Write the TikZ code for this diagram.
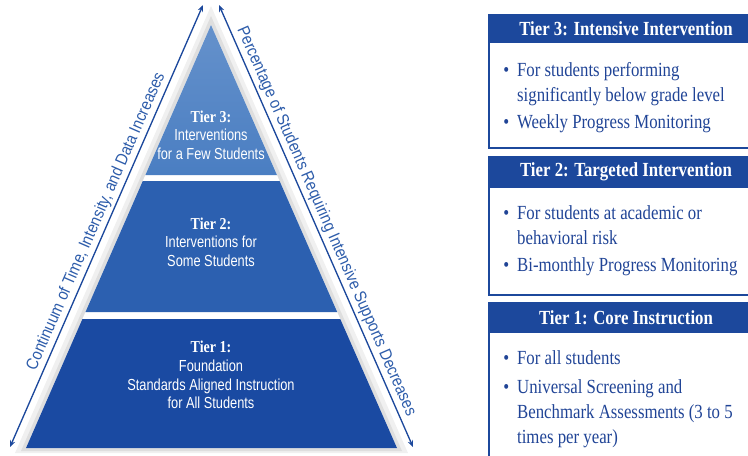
\documentclass[tikz,border=0pt]{standalone}
\usepackage{fontspec}
\usetikzlibrary{calc,arrows.meta}

\newfontfamily\boxfont{Liberation Serif}[FakeStretch=0.84]
\newfontfamily\pyrfont{Liberation Sans}[FakeStretch=0.80]
\newfontfamily\sidefont{Liberation Sans}[FakeStretch=0.88]

\definecolor{tierthree}{RGB}{74,126,194}
\definecolor{tiertwo}{RGB}{44,96,176}
\definecolor{tierone}{RGB}{26,74,162}
\definecolor{navy}{RGB}{28,72,156}
\definecolor{sideblue}{RGB}{45,92,170}
\definecolor{bodyblue}{RGB}{32,68,150}

\tikzset{
  tierlabel/.style={align=center, text=white, font=\pyrfont\fontsize{12}{14}\selectfont},
  boxhead/.style={text=white, font=\boxfont\bfseries\fontsize{15}{18}\selectfont},
  boxbody/.style={anchor=north west, inner sep=0pt, text=bodyblue, font=\boxfont\fontsize{15}{18.75}\selectfont},
  sidetext/.style={sloped, above, inner sep=2pt, text=sideblue, font=\sidefont\fontsize{12.6}{15}\selectfont},
  pyrarrow/.style={navy, line width=1pt, {Stealth[length=5pt,width=4pt]}-{Stealth[length=5pt,width=4pt]}}
}
\def\tiername#1{{\boxfont\bfseries\fontsize{12.5}{14}\selectfont Tier #1:}}

\begin{document}
\begin{tikzpicture}[x=0.75pt,y=-0.75pt]
    \useasboundingbox (0,0) rectangle (748,455);
    \clip (0,0) rectangle (748,455);

    % pyramid
    \coordinate (apex) at (211,25);
    \coordinate (bl) at (26,448);
    \coordinate (br) at (397,448);
    \fill[black!6] (211,6) -- (15,453) -- (408,453) -- cycle;
    \fill[black!13] (211,16) -- (21,451) -- (402,451) -- cycle;
    \fill[white] (apex) -- (bl) -- (br) -- cycle;
    \shade[top color=tierthree!85!white, bottom color=tierthree] (apex) -- ($(apex)!0.3546!(bl)$) -- ($(apex)!0.3546!(br)$) -- cycle;
    \fill[tiertwo] ($(apex)!0.3688!(bl)$) -- ($(apex)!0.6785!(bl)$) -- ($(apex)!0.6785!(br)$) -- ($(apex)!0.3688!(br)$) -- cycle;
    \fill[tierone] ($(apex)!0.695!(bl)$) -- (bl) -- (br) -- ($(apex)!0.695!(br)$) -- cycle;

    \node[tierlabel] (t3) at (211,135) {\tiername{3}\\Interventions\\for a Few Students};
    \node[tierlabel] (t2) at (211,242) {\tiername{2}\\Interventions for\\Some Students};
    \node[tierlabel] (t1) at (211,375) {\tiername{1}\\Foundation\\Standards Aligned Instruction\\for All Students};

    % side arrows
    \coordinate (la1) at (10,447);
    \coordinate (la2) at (203,5);
    \coordinate (ra1) at (219,5);
    \coordinate (ra2) at (413,447);
    \draw[pyrarrow] (la1) -- node[sidetext] (lefttext) {Continuum of Time, Intensity, and Data Increases} (la2);
    \draw[pyrarrow] (ra1) -- node[sidetext] (righttext) {Percentage of Students Requiring Intensive Supports Decreases} (ra2);

    % tier boxes
    \draw[navy, line width=1.5pt] (489,15) rectangle (765,148);
    \fill[navy] (489,15) rectangle (765,43);
    \node[boxhead] (h3) at (626,29) {Tier 3: Intensive Intervention};
    \node[boxbody] (b3) at (503,59) {\begin{tabular}{@{}l@{\hspace{6pt}}l@{}}
        \textbullet & For students performing\\
        & significantly below grade level\\[1.5pt]
        \textbullet & Weekly Progress Monitoring
    \end{tabular}};

    \draw[navy, line width=1.5pt] (489,157) rectangle (765,295);
    \fill[navy] (489,157) rectangle (765,188);
    \node[boxhead] (h2) at (626,172) {Tier 2: Targeted Intervention};
    \node[boxbody] (b2) at (503,202) {\begin{tabular}{@{}l@{\hspace{6pt}}l@{}}
        \textbullet & For students at academic or\\
        & behavioral risk\\[1.5pt]
        \textbullet & Bi-monthly Progress Monitoring
    \end{tabular}};

    \draw[navy, line width=1.5pt] (489,303) rectangle (765,470);
    \fill[navy] (489,303) rectangle (765,333);
    \node[boxhead] (h1) at (626,318) {Tier 1: Core Instruction};
    \node[boxbody] (b1) at (503,347) {\begin{tabular}{@{}l@{\hspace{6pt}}l@{}}
        \textbullet & For all students\\[3pt]
        \textbullet & Universal Screening and\\
        & Benchmark Assessments (3 to 5\\
        & times per year)
    \end{tabular}};

\end{tikzpicture}
\end{document}
